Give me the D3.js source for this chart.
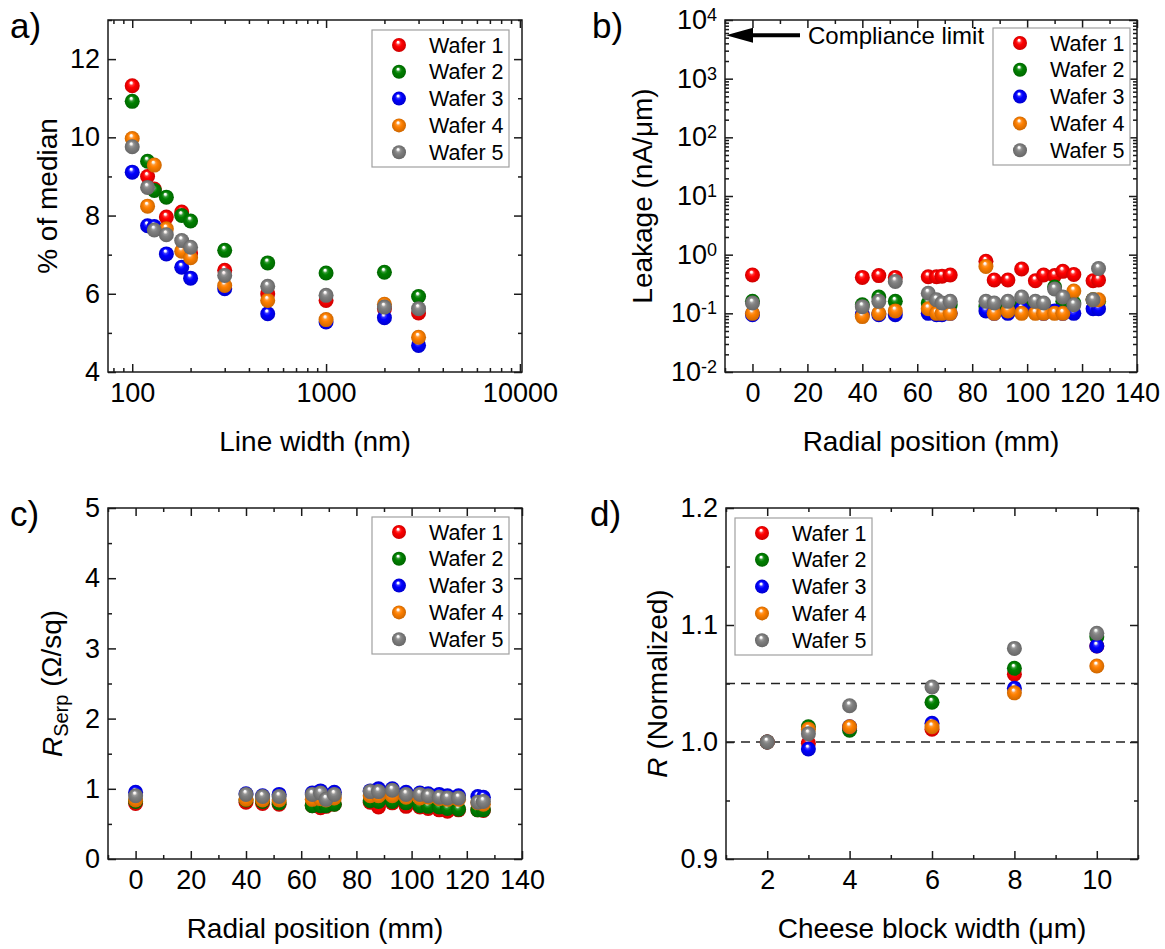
<!DOCTYPE html>
<html>
<head>
<meta charset="utf-8">
<script src="https://cdn.jsdelivr.net/npm/d3@7"></script>
<style>
  body { margin: 0; background: #fff; }
</style>
</head>
<body>
<script>
const wafers = ["Wafer 1", "Wafer 2", "Wafer 3", "Wafer 4", "Wafer 5"];
const ballColors = ["#ff0000", "#008000", "#0000ff", "#ff8000", "#808080"];

// a) spread (% of median) vs line width
const lineWidths = [100, 120, 130, 150, 180, 200, 300, 500, 1000, 2000, 3000];
const spreadW1 = [11.32, 9.00, 8.68, 7.96, 8.09, 7.04, 6.60, 6.00, 5.83, 5.62, 5.51];
const spreadW2 = [10.92, 9.39, 8.64, 8.47, 8.00, 7.86, 7.11, 6.79, 6.53, 6.55, 5.93];
const spreadW3 = [9.11, 7.74, 7.72, 7.02, 6.68, 6.40, 6.13, 5.49, 5.28, 5.39, 4.68];
const spreadW4 = [9.97, 8.24, 9.29, 7.66, 7.09, 6.92, 6.21, 5.83, 5.34, 5.73, 4.89];
const spreadW5 = [9.76, 8.72, 7.63, 7.51, 7.36, 7.19, 6.47, 6.19, 5.96, 5.66, 5.62];
const lineWidthTicks = [100, 1000, 10000];

// b) leakage and c) serpentine resistance vs radial position
const radialPos = [0, 40, 46, 52, 64, 67, 69, 72, 85, 88, 93, 98, 103, 106, 110, 113, 117, 124, 126];
const leakW1 = [0.45, 0.41, 0.44, 0.41, 0.42, 0.42, 0.43, 0.45, 0.77, 0.37, 0.37, 0.57, 0.36, 0.45, 0.44, 0.52, 0.46, 0.36, 0.37];
const leakW2 = [0.16, 0.14, 0.19, 0.16, 0.15, 0.14, 0.14, 0.14, 0.13, 0.13, 0.14, 0.14, 0.13, 0.14, 0.28, 0.16, 0.15, 0.17, 0.16];
const leakW3 = [0.095, 0.095, 0.095, 0.095, 0.10, 0.095, 0.095, 0.10, 0.11, 0.10, 0.10, 0.12, 0.11, 0.10, 0.11, 0.10, 0.10, 0.12, 0.12];
const leakW4 = [0.10, 0.088, 0.10, 0.11, 0.12, 0.10, 0.10, 0.10, 0.63, 0.10, 0.11, 0.10, 0.10, 0.10, 0.10, 0.10, 0.24, 0.17, 0.17];
const leakW5 = [0.15, 0.13, 0.16, 0.35, 0.22, 0.17, 0.15, 0.16, 0.16, 0.15, 0.16, 0.19, 0.16, 0.15, 0.26, 0.19, 0.14, 0.17, 0.58];
const complianceLimit = 5500;

const rserpW1 = [0.79, 0.81, 0.79, 0.78, 0.76, 0.73, 0.75, 0.78, 0.81, 0.74, 0.80, 0.75, 0.74, 0.72, 0.70, 0.68, 0.70, 0.70, 0.69];
const rserpW2 = [0.82, 0.84, 0.82, 0.80, 0.76, 0.76, 0.76, 0.78, 0.83, 0.82, 0.82, 0.80, 0.76, 0.75, 0.74, 0.72, 0.71, 0.70, 0.70];
const rserpW3 = [0.95, 0.93, 0.90, 0.92, 0.94, 0.97, 0.90, 0.95, 0.97, 1.00, 1.00, 0.95, 0.94, 0.93, 0.92, 0.90, 0.90, 0.89, 0.88];
const rserpW4 = [0.84, 0.85, 0.84, 0.84, 0.85, 0.86, 0.84, 0.87, 0.90, 0.90, 0.90, 0.88, 0.87, 0.88, 0.86, 0.85, 0.85, 0.80, 0.78];
const rserpW5 = [0.90, 0.92, 0.89, 0.89, 0.92, 0.94, 0.85, 0.92, 0.96, 0.96, 0.98, 0.92, 0.92, 0.90, 0.88, 0.87, 0.87, 0.81, 0.82];

// d) normalized R vs cheese block width
const blockWidths = [2, 3, 4, 6, 8, 10];
const normW1 = [1.000, 0.999, 1.012, 1.011, 1.058, 1.082];
const normW2 = [1.000, 1.013, 1.010, 1.034, 1.063, 1.090];
const normW3 = [1.000, 0.994, 1.013, 1.016, 1.046, 1.082];
const normW4 = [1.000, 1.011, 1.013, 1.013, 1.042, 1.065];
const normW5 = [1.000, 1.007, 1.031, 1.047, 1.080, 1.093];
const normRefLines = [1.0, 1.05];

const W = 1165, H = 949;
const ink = "#1a1a1a";
const svg = d3.select("body").append("svg")
  .attr("width", W).attr("height", H)
  .style("font-family", '"Liberation Sans", Arial, Helvetica, sans-serif');

// shaded balls like the Origin markers
const defs = svg.append("defs");
ballColors.forEach((c, i) => {
  const grad = defs.append("radialGradient").attr("id", "ball" + i)
    .attr("cx", "50%").attr("cy", "50%").attr("r", "50%")
    .attr("fx", "42%").attr("fy", "27%");
  grad.append("stop").attr("offset", "0%").attr("stop-color", "#fff");
  grad.append("stop").attr("offset", "12%").attr("stop-color", "#fff").attr("stop-opacity", 0.95);
  grad.append("stop").attr("offset", "30%").attr("stop-color", d3.interpolateRgb("#fff", c)(0.8));
  grad.append("stop").attr("offset", "50%").attr("stop-color", c);
  grad.append("stop").attr("offset", "100%").attr("stop-color", d3.color(c).darker(0.6).formatHex());
});

function putAxis(g, axis, tx, ty) {
  const a = g.append("g").attr("transform", `translate(${tx},${ty})`).call(axis);
  a.attr("font-family", null).attr("font-size", 27);
  a.select(".domain").remove();
  a.selectAll("line").attr("stroke", ink).attr("stroke-width", 1.5);
  a.selectAll("text").attr("fill", "#000");
  return a;
}

function drawFrame(g, x, y, o) {
  const [x0, x1] = x.range(), [y0, y1] = y.range();
  const none = () => "";
  putAxis(g, d3.axisBottom(x).tickValues(o.xMinor).tickFormat(none).tickSizeInner(-4).tickSizeOuter(0), 0, y0);
  putAxis(g, d3.axisTop(x).tickValues(o.xMinor).tickFormat(none).tickSizeInner(-4).tickSizeOuter(0), 0, y1);
  putAxis(g, d3.axisLeft(y).tickValues(o.yMinor).tickFormat(none).tickSizeInner(-4).tickSizeOuter(0), x0, 0);
  putAxis(g, d3.axisRight(y).tickValues(o.yMinor).tickFormat(none).tickSizeInner(-4).tickSizeOuter(0), x1, 0);
  putAxis(g, d3.axisBottom(x).tickValues(o.xMajor).tickFormat(o.xFormat).tickSizeInner(-8).tickSizeOuter(0).tickPadding(11), 0, y0);
  putAxis(g, d3.axisTop(x).tickValues(o.xMajor).tickFormat(none).tickSizeInner(-8).tickSizeOuter(0), 0, y1);
  const yl = putAxis(g, d3.axisLeft(y).tickValues(o.yMajor).tickFormat(o.yFormat).tickSizeInner(-8).tickSizeOuter(0).tickPadding(8), x0, 0);
  putAxis(g, d3.axisRight(y).tickValues(o.yMajor).tickFormat(none).tickSizeInner(-8).tickSizeOuter(0), x1, 0);

  g.append("rect")
    .attr("x", x0).attr("y", y1).attr("width", x1 - x0).attr("height", y0 - y1)
    .attr("fill", "none").attr("stroke", ink).attr("stroke-width", 1.5);

  g.append("text")
    .attr("x", (x0 + x1) / 2).attr("y", y0 + 79)
    .attr("text-anchor", "middle").attr("font-size", 28)
    .text(o.xTitle);

  const yt = g.append("text")
    .attr("transform", `translate(${o.yTitleX},${(y0 + y1) / 2}) rotate(-90)`)
    .attr("text-anchor", "middle").attr("dy", "0.35em").attr("font-size", 28);
  o.yTitle(yt);

  g.append("text").attr("x", o.label[1]).attr("y", o.label[2])
    .attr("font-size", 35).text(o.label[0]);
  return yl;
}

function drawSeries(g, x, y, xs, series) {
  series.forEach((ys, i) => {
    g.append("g").selectAll("circle")
      .data(d3.zip(xs, ys))
      .join("circle")
      .attr("cx", d => x(d[0]))
      .attr("cy", d => y(d[1]))
      .attr("r", 7.5)
      .attr("fill", `url(#ball${i})`);
  });
}

function drawLegend(g, bx, by) {
  const lg = g.append("g").attr("transform", `translate(${bx},${by})`);
  lg.append("rect").attr("width", 137).attr("height", 137)
    .attr("fill", "#fff").attr("stroke", "#a0a0a0").attr("stroke-width", 1.2);
  const row = lg.selectAll("g.row").data(wafers).join("g")
    .attr("class", "row")
    .attr("transform", (d, i) => `translate(0,${15 + i * 26.8})`);
  row.append("circle").attr("cx", 27).attr("r", 7).attr("fill", (d, i) => `url(#ball${i})`);
  row.append("text").attr("x", 57).attr("dy", "0.35em").attr("font-size", 21.5).text(d => d);
}

function range(a, b, s) { return d3.range(a, b + s / 2, s); }

// ---------- a) ----------
{
  const g = svg.append("g");
  const x = d3.scaleLog().domain([75, 10250]).range([108, 522]);
  const y = d3.scaleLinear().domain([4, 13]).range([372, 20]);
  const logMinor = [];
  [10, 100, 1000].forEach(dec => d3.range(2, 10).forEach(k => {
    const v = k * dec;
    if (v >= 75 && v <= 10250) logMinor.push(v);
  }));
  drawFrame(g, x, y, {
    xMajor: lineWidthTicks, xMinor: logMinor, xFormat: d3.format("d"),
    yMajor: range(4, 12, 2), yMinor: range(5, 13, 2), yFormat: d3.format("d"),
    xTitle: "Line width (nm)", yTitleX: 47,
    yTitle: t => t.text("% of median"),
    label: ["a)", 10, 38]
  });
  drawSeries(g, x, y, lineWidths, [spreadW1, spreadW2, spreadW3, spreadW4, spreadW5]);
  drawLegend(g, 372, 30);
}

// ---------- b) ----------
{
  const g = svg.append("g");
  const x = d3.scaleLinear().domain([-10, 140]).range([725, 1137]);
  const y = d3.scaleLog().domain([1e-2, 1e4]).range([372, 20]);
  const decades = d3.range(-2, 5).map(e => Math.pow(10, e));
  const logMinor = [];
  decades.slice(0, -1).forEach(dec => d3.range(2, 10).forEach(k => logMinor.push(k * dec)));
  const yl = drawFrame(g, x, y, {
    xMajor: range(0, 140, 20), xMinor: range(-10, 130, 20), xFormat: d3.format("d"),
    yMajor: decades, yMinor: logMinor, yFormat: () => "",
    xTitle: "Radial position (mm)", yTitleX: 642,
    yTitle: t => t.text("Leakage (nA/\u03bcm)"),
    label: ["b)", 592, 38]
  });
  yl.selectAll(".tick text").each(function(d) {
    const t = d3.select(this);
    t.append("tspan").text("10");
    t.append("tspan").attr("dy", "-0.45em").attr("font-size", 18)
      .text(Math.round(Math.log10(d)));
  });
  drawSeries(g, x, y, radialPos, [leakW1, leakW2, leakW3, leakW4, leakW5]);

  // compliance limit arrow
  const ay = y(complianceLimit), ax = x.range()[0];
  g.append("line").attr("x1", ax + 24).attr("x2", ax + 75).attr("y1", ay).attr("y2", ay)
    .attr("stroke", "#000").attr("stroke-width", 4);
  g.append("path")
    .attr("d", `M${ax + 1},${ay} L${ax + 28},${ay - 7.5} L${ax + 28},${ay + 7.5} Z`)
    .attr("fill", "#000");
  g.append("text").attr("x", ax + 83).attr("y", ay).attr("dy", "0.35em")
    .attr("font-size", 24).text("Compliance limit");
  drawLegend(g, 993, 28);
}

// ---------- c) ----------
{
  const g = svg.append("g");
  const x = d3.scaleLinear().domain([-10, 140]).range([108, 522]);
  const y = d3.scaleLinear().domain([0, 5]).range([859, 508]);
  drawFrame(g, x, y, {
    xMajor: range(0, 140, 20), xMinor: range(-10, 130, 20), xFormat: d3.format("d"),
    yMajor: range(0, 5, 1), yMinor: range(0.5, 4.5, 1), yFormat: d3.format("d"),
    xTitle: "Radial position (mm)", yTitleX: 52,
    yTitle: t => {
      t.append("tspan").attr("font-style", "italic").text("R");
      t.append("tspan").attr("font-size", 20).attr("dy", "0.3em").text("Serp");
      t.append("tspan").attr("dy", "-0.25em").text(" (\u03a9/sq)");
    },
    label: ["c)", 10, 526]
  });
  drawSeries(g, x, y, radialPos, [rserpW1, rserpW2, rserpW3, rserpW4, rserpW5]);
  drawLegend(g, 372, 517);
}

// ---------- d) ----------
{
  const g = svg.append("g");
  const x = d3.scaleLinear().domain([1, 11]).range([726, 1138]);
  const y = d3.scaleLinear().domain([0.9, 1.2]).range([859, 508]);
  drawFrame(g, x, y, {
    xMajor: range(2, 10, 2), xMinor: range(1, 11, 2), xFormat: d3.format("d"),
    yMajor: range(0.9, 1.2, 0.1), yMinor: range(0.95, 1.15, 0.1), yFormat: d3.format(".1f"),
    xTitle: "Cheese block width (\u03bcm)", yTitleX: 657,
    yTitle: t => {
      t.append("tspan").attr("font-style", "italic").text("R");
      t.append("tspan").text(" (Normalized)");
    },
    label: ["d)", 590, 526]
  });
  g.selectAll("line.ref").data(normRefLines).join("line")
    .attr("class", "ref")
    .attr("x1", x.range()[0]).attr("x2", x.range()[1])
    .attr("y1", d => y(d)).attr("y2", d => y(d))
    .attr("stroke", "#222").attr("stroke-width", 1.5).attr("stroke-dasharray", "9,6");
  drawSeries(g, x, y, blockWidths, [normW1, normW2, normW3, normW4, normW5]);
  drawLegend(g, 735, 518);
}
</script>
</body>
</html>
